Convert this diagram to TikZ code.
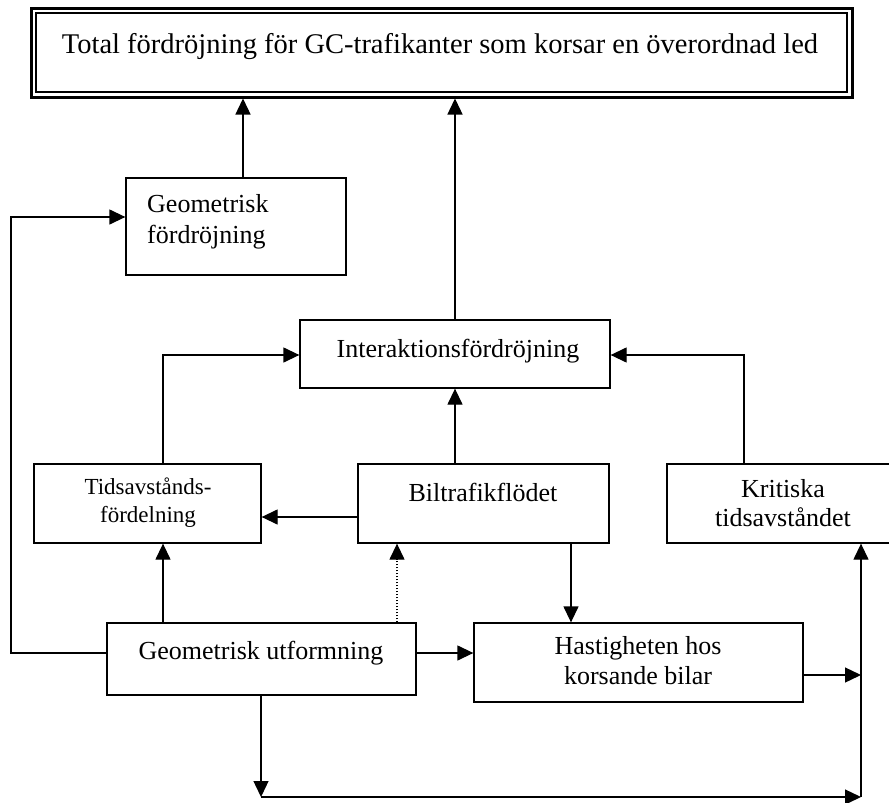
\documentclass[tikz,border=0pt]{standalone}
\usepackage{fontspec}
\setmainfont{Liberation Serif}
\usetikzlibrary{arrows.meta,fit}
\begin{document}
\begin{tikzpicture}[x=1pt,y=-1pt,
  box/.style={draw,line width=1.3pt,inner sep=0pt},
  lbl/.style={inner sep=0pt,align=center,font=\fontsize{26}{31}\selectfont},
  smalllbl/.style={inner sep=0pt,align=center,font=\fontsize{23}{28}\selectfont},
  wire/.style={line width=1.3pt},
  conn/.style={wire,-{Triangle[length=16pt,width=15pt]}}]

\useasboundingbox (0,0) rectangle (889,803);

% title box with a heavy outer frame and a thin inner frame
\node[box,line width=3pt,fit={(31,8) (852,97)}] (title) {};
\draw[line width=1.5pt] (36,13) rectangle (847,92);
\node[lbl,font=\fontsize{28.5}{34}\selectfont,anchor=base] (title-t) at (440,53)
  {Total fördröjning för GC-trafikanter som korsar en överordnad led};

% boxes
\node[box,fit={(126,178) (346,275)}] (geoF) {};
\node[lbl,align=left,anchor=west] (geoF-t) at (147,221.5) {Geometrisk\\fördröjning};

\node[box,fit={(300,320) (610,388)}] (inter) {};
\node[lbl,anchor=base] (inter-t) at (458,357) {Interaktionsfördröjning};

\node[box,fit={(34,464) (261,543)}] (tids) {};
\node[smalllbl] (tids-t) at (148,503) {Tidsavstånds-\\fördelning};

\node[box,fit={(358,464) (609,543)}] (bil) {};
\node[lbl,anchor=base] (bil-t) at (483,501) {Biltrafikflödet};

\node[box,fit={(667,464) (900,543)}] (krit) {};
\node[lbl,font=\fontsize{26}{29}\selectfont] (krit-t) at (783,503.5) {Kritiska\\tidsavståndet};

\node[box,fit={(474,623) (803,702)}] (hast) {};
\node[lbl,font=\fontsize{26}{30}\selectfont] (hast-t) at (638,661) {Hastigheten hos\\korsande bilar};

\node[box,fit={(107,623) (416,695)}] (geoU) {};
\node[lbl,anchor=base] (geoU-t) at (261,659) {Geometrisk utformning};

% junction points of the wiring
\coordinate (loopL) at (11,653);
\coordinate (busL) at (261,797);
\coordinate (busR) at (861,797);
\coordinate (hastJ) at (861,675);

% connectors
\draw[conn] (geoF.north -| 243,0) -- (title.south -| 243,0);
\draw[conn] (inter.north -| 455,0) -- (title.south -| 455,0);

\draw[conn] (geoU.west |- loopL) -- (loopL) -- (loopL |- 0,217) -- (geoF.west |- 0,217);

\draw[conn] (tids.north -| 163,0) -- (163,355) -- (inter.west |- 0,355);
\draw[conn] (krit.north -| 744,0) -- (744,355) -- (inter.east |- 0,355);
\draw[conn] (bil.north -| 455,0) -- (inter.south -| 455,0);
\draw[conn] (bil.west |- 0,517) -- (tids.east |- 0,517);

\draw[conn] (geoU.north -| 163,0) -- (tids.south -| 163,0);
\draw[conn,dash pattern=on 1.2pt off 1.8pt] (geoU.north -| 397,0) -- (bil.south -| 397,0);
\draw[conn] (bil.south -| 571,0) -- (hast.north -| 571,0);
\draw[conn] (geoU.east |- 0,653) -- (hast.west |- 0,653);
\draw[conn] (hast.east |- hastJ) -- (hastJ);

\draw[conn] (geoU.south -| busL) -- (busL);
\draw[conn] (busL) -- (busR);
\draw[conn] (busR) -- (krit.south -| busR);

\end{tikzpicture}
\end{document}
